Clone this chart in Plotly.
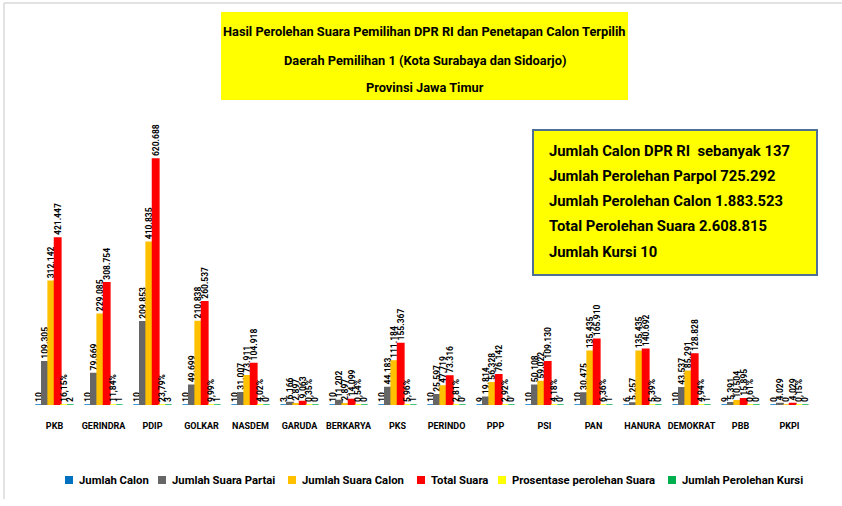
import plotly.graph_objects as go

parties = ["PKB", "GERINDRA", "PDIP", "GOLKAR", "NASDEM", "GARUDA", "BERKARYA", "PKS",
           "PERINDO", "PPP", "PSI", "PAN", "HANURA", "DEMOKRAT", "PBB", "PKPI"]
jumlah_calon = [10, 10, 10, 10, 10, 3, 10, 10, 10, 9, 10, 10, 6, 10, 9, 0]
suara_partai = [109305, 79669, 209853, 49699, 31007, 6166, 11202, 44183, 25597, 19814,
                50108, 30475, 5257, 43537, 5391, 4029]
suara_calon = [312142, 229085, 410835, 210838, 73911, 2897, 2897, 111184, 47719, 56328,
               59022, 135435, 135435, 85291, 10504, 0]
total_suara = [421447, 308754, 620688, 260537, 104918, 9063, 14099, 155367, 73316, 76142,
               109130, 165910, 140692, 128828, 15895, 4029]
prosentase = [16.15, 11.84, 23.79, 9.99, 4.02, 0.35, 0.54, 5.96, 2.81, 2.92, 4.18, 6.36,
              5.39, 4.94, 0.61, 0.15]
kursi = [2, 1, 3, 1, 0, 0, 0, 1, 0, 0, 0, 1, 0, 1, 0, 0]

series_names = ["Jumlah Calon", "Jumlah Suara Partai", "Jumlah Suara Calon", "Total Suara",
                "Prosentase perolehan Suara", "Jumlah Perolehan Kursi"]
series_colors = ["#0070C0", "#666666", "#FFC000", "#FF0000", "#FFFF00", "#00B050"]

title_lines = ["Hasil Perolehan Suara Pemilihan DPR RI dan Penetapan Calon Terpilih",
               "Daerah Pemilihan 1 (Kota Surabaya dan Sidoarjo)",
               "Provinsi Jawa Timur"]
info_lines = ["Jumlah Calon DPR RI  sebanyak 137",
              "Jumlah Perolehan Parpol 725.292",
              "Jumlah Perolehan Calon 1.883.523",
              "Total Perolehan Suara 2.608.815",
              "Jumlah Kursi 10"]

FONT = "Roboto, Liberation Sans, Arial, sans-serif"

def fmt_int(v):
    return f"{v:,}".replace(",", ".")

def fmt_pct(v):
    return f"{v:.2f}".replace(".", ",") + "%"

series_values = [jumlah_calon, suara_partai, suara_calon, total_suara, prosentase, kursi]
series_text = [
    [fmt_int(v) for v in jumlah_calon],
    [fmt_int(v) for v in suara_partai],
    [fmt_int(v) for v in suara_calon],
    [fmt_int(v) for v in total_suara],
    [fmt_pct(v) for v in prosentase],
    [fmt_int(v) for v in kursi],
]

fig = go.Figure()
for name, vals, txt, col in zip(series_names, series_values, series_text, series_colors):
    fig.add_trace(go.Bar(
        x=parties, y=vals, name=name, text=txt,
        textposition="outside", textangle=-90, constraintext="none", cliponaxis=False,
        textfont=dict(family=FONT, size=8.5, color="#000000", weight="bold"),
        marker=dict(color=col, line=dict(color=col, width=1.5)),
        showlegend=False, hoverinfo="skip",
    ))

W, H = 842, 506
ML, MR, MT, MB = 30, 28, 40, 101
PW, PH = W - ML - MR, H - MT - MB

def px(x):
    return (x - ML) / PW

def py(y):
    return (H - MB - y) / PH

shapes = []
annotations = []

# outer light frame
shapes.append(dict(type="line", xref="paper", yref="paper", x0=px(4), x1=px(845), y0=py(3), y1=py(3),
                   line=dict(color="#D9D9D9", width=1.5)))
shapes.append(dict(type="line", xref="paper", yref="paper", x0=px(4), x1=px(4), y0=py(3), y1=py(499),
                   line=dict(color="#D9D9D9", width=1.5)))

# title box
shapes.append(dict(type="rect", xref="paper", yref="paper", x0=px(221), x1=px(628), y0=py(12), y1=py(100),
                   fillcolor="#FFFF00", line=dict(width=0), layer="below"))
for line, yc in zip(title_lines, [31.5, 60, 87]):
    annotations.append(dict(xref="paper", yref="paper", x=px(424.5), y=py(yc), text=line, showarrow=False,
                            xanchor="center", yanchor="middle",
                            font=dict(family=FONT, size=12.8, color="#000000", weight="bold")))

# info box
shapes.append(dict(type="rect", xref="paper", yref="paper", x0=px(533), x1=px(817), y0=py(130), y1=py(275),
                   fillcolor="#FFFF00", line=dict(color="#4F7096", width=2)))
for line, yc in zip(info_lines, [151, 176, 201, 226, 252]):
    annotations.append(dict(xref="paper", yref="paper", x=px(547), y=py(yc), text=line, showarrow=False,
                            xanchor="left", yanchor="middle",
                            font=dict(family=FONT, size=14.8, color="#000000", weight="bold")))

# legend
legend_x = [65, 158, 288, 417, 498, 668]
for name, col, lx in zip(series_names, series_colors, legend_x):
    shapes.append(dict(type="rect", xref="paper", yref="paper", x0=px(lx), x1=px(lx + 8),
                       y0=py(476), y1=py(484), fillcolor=col, line=dict(width=0)))
    annotations.append(dict(xref="paper", yref="paper", x=px(lx + 12), y=py(480), text=name, showarrow=False,
                            xanchor="left", yanchor="middle",
                            font=dict(family=FONT, size=11.3, color="#000000", weight="bold")))

fig.update_layout(
    width=W, height=H,
    margin=dict(l=ML, r=MR, t=MT, b=MB),
    paper_bgcolor="#FFFFFF", plot_bgcolor="#FFFFFF",
    barmode="group", bargap=0.22, bargroupgap=0,
    showlegend=False, hovermode=False,
    xaxis=dict(showgrid=False, showline=False, zeroline=False, ticks="", tickangle=0,
               tickfont=dict(family=FONT, size=9, color="#000000", weight="bold"),
               ticklabelstandoff=14),
    yaxis=dict(visible=False, range=[0, 921000]),
    shapes=shapes, annotations=annotations,
    font=dict(family=FONT),
)

fig.write_html("out.html", config={"displayModeBar": False},
               post_script="document.body.style.margin='0';")
